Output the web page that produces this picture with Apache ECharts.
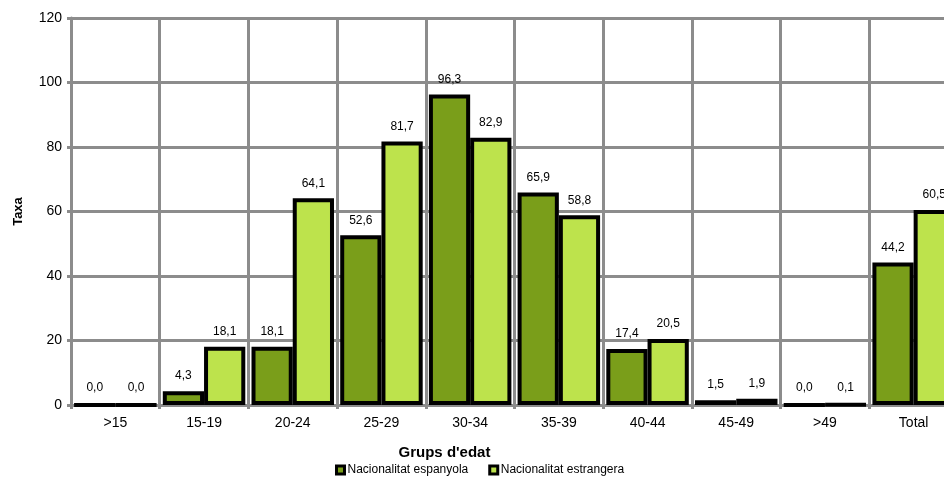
<!DOCTYPE html>
<html><head><meta charset="utf-8">
<script src="https://cdn.jsdelivr.net/npm/echarts@6/dist/echarts.min.js"></script>
<style>html,body{margin:0;padding:0;background:#fff}#c{width:944px;height:479px}</style>
</head><body><div id="c"></div>
<script>
const categories = ['>15','15-19','20-24','25-29','30-34','35-39','40-44','45-49','>49','Total'];
const espanyola = [0.0, 4.3, 18.1, 52.6, 96.3, 65.9, 17.4, 1.5, 0.0, 44.2];
const estrangera = [0.0, 18.1, 64.1, 81.7, 82.9, 58.8, 20.5, 1.9, 0.1, 60.5];
const yTicks = [0, 20, 40, 60, 80, 100, 120];

const fmt = v => Number(v).toFixed(1).replace('.', ',');
const FONT = '"Liberation Sans", Arial, sans-serif';
const chart = echarts.init(document.getElementById('c'));
const lbl = {show:true, position:'top', distance:9, fontSize:12, color:'#000', fontFamily:FONT, formatter:p=>fmt(p.value)};
chart.setOption({
  animation:false,
  textStyle:{fontFamily:FONT},
  grid:{left:71, top:18, bottom:74, width:887, containLabel:false, outerBoundsMode:'none'},
  legend:{top:459, left:330, itemWidth:8, itemHeight:8, itemGap:20,
    textStyle:{fontSize:12, color:'#000', fontFamily:FONT, padding:[0,0,0,-2]},
    data:[{name:'Nacionalitat espanyola', icon:'rect', itemStyle:{color:'#7a9e1a', borderColor:'#000', borderWidth:3}},
          {name:'Nacionalitat estrangera', icon:'rect', itemStyle:{color:'#bde34c', borderColor:'#000', borderWidth:3}}]},
  xAxis:{type:'category', data:categories, name:"Grups d'edat", nameLocation:'middle', nameGap:40,
    nameTextStyle:{fontSize:15, fontWeight:'bold', color:'#000', fontFamily:FONT, padding:[0,140,0,0]},
    axisLine:{lineStyle:{color:'#8c8c8c', width:3}},
    axisTick:{show:true, length:4, lineStyle:{color:'#8c8c8c', width:3}},
    axisLabel:{fontSize:14, color:'#000', margin:11, fontFamily:FONT},
    splitLine:{show:true, lineStyle:{color:'#8c8c8c', width:3}}},
  yAxis:{type:'value', min:yTicks[0], max:yTicks[yTicks.length-1], interval:20, name:'Taxa', nameLocation:'middle', nameGap:46,
    nameTextStyle:{fontSize:13, fontWeight:'bold', color:'#000', fontFamily:FONT},
    axisLine:{show:true, lineStyle:{color:'#8c8c8c', width:3}},
    axisTick:{show:true, length:4, lineStyle:{color:'#8c8c8c', width:3}},
    axisLabel:{fontSize:14, color:'#000', margin:9, fontFamily:FONT},
    splitLine:{show:true, lineStyle:{color:'#8c8c8c', width:3}}},
  series:[
    {name:'Nacionalitat espanyola', type:'bar', data:espanyola, barGap:'0%', barCategoryGap:'7%',
     itemStyle:{color:'#7a9e1a', borderColor:'#000', borderWidth:4}, label:lbl},
    {name:'Nacionalitat estrangera', type:'bar', data:estrangera, barGap:'0%', barCategoryGap:'7%',
     itemStyle:{color:'#bde34c', borderColor:'#000', borderWidth:4}, label:lbl}
  ]
});
</script></body></html>
